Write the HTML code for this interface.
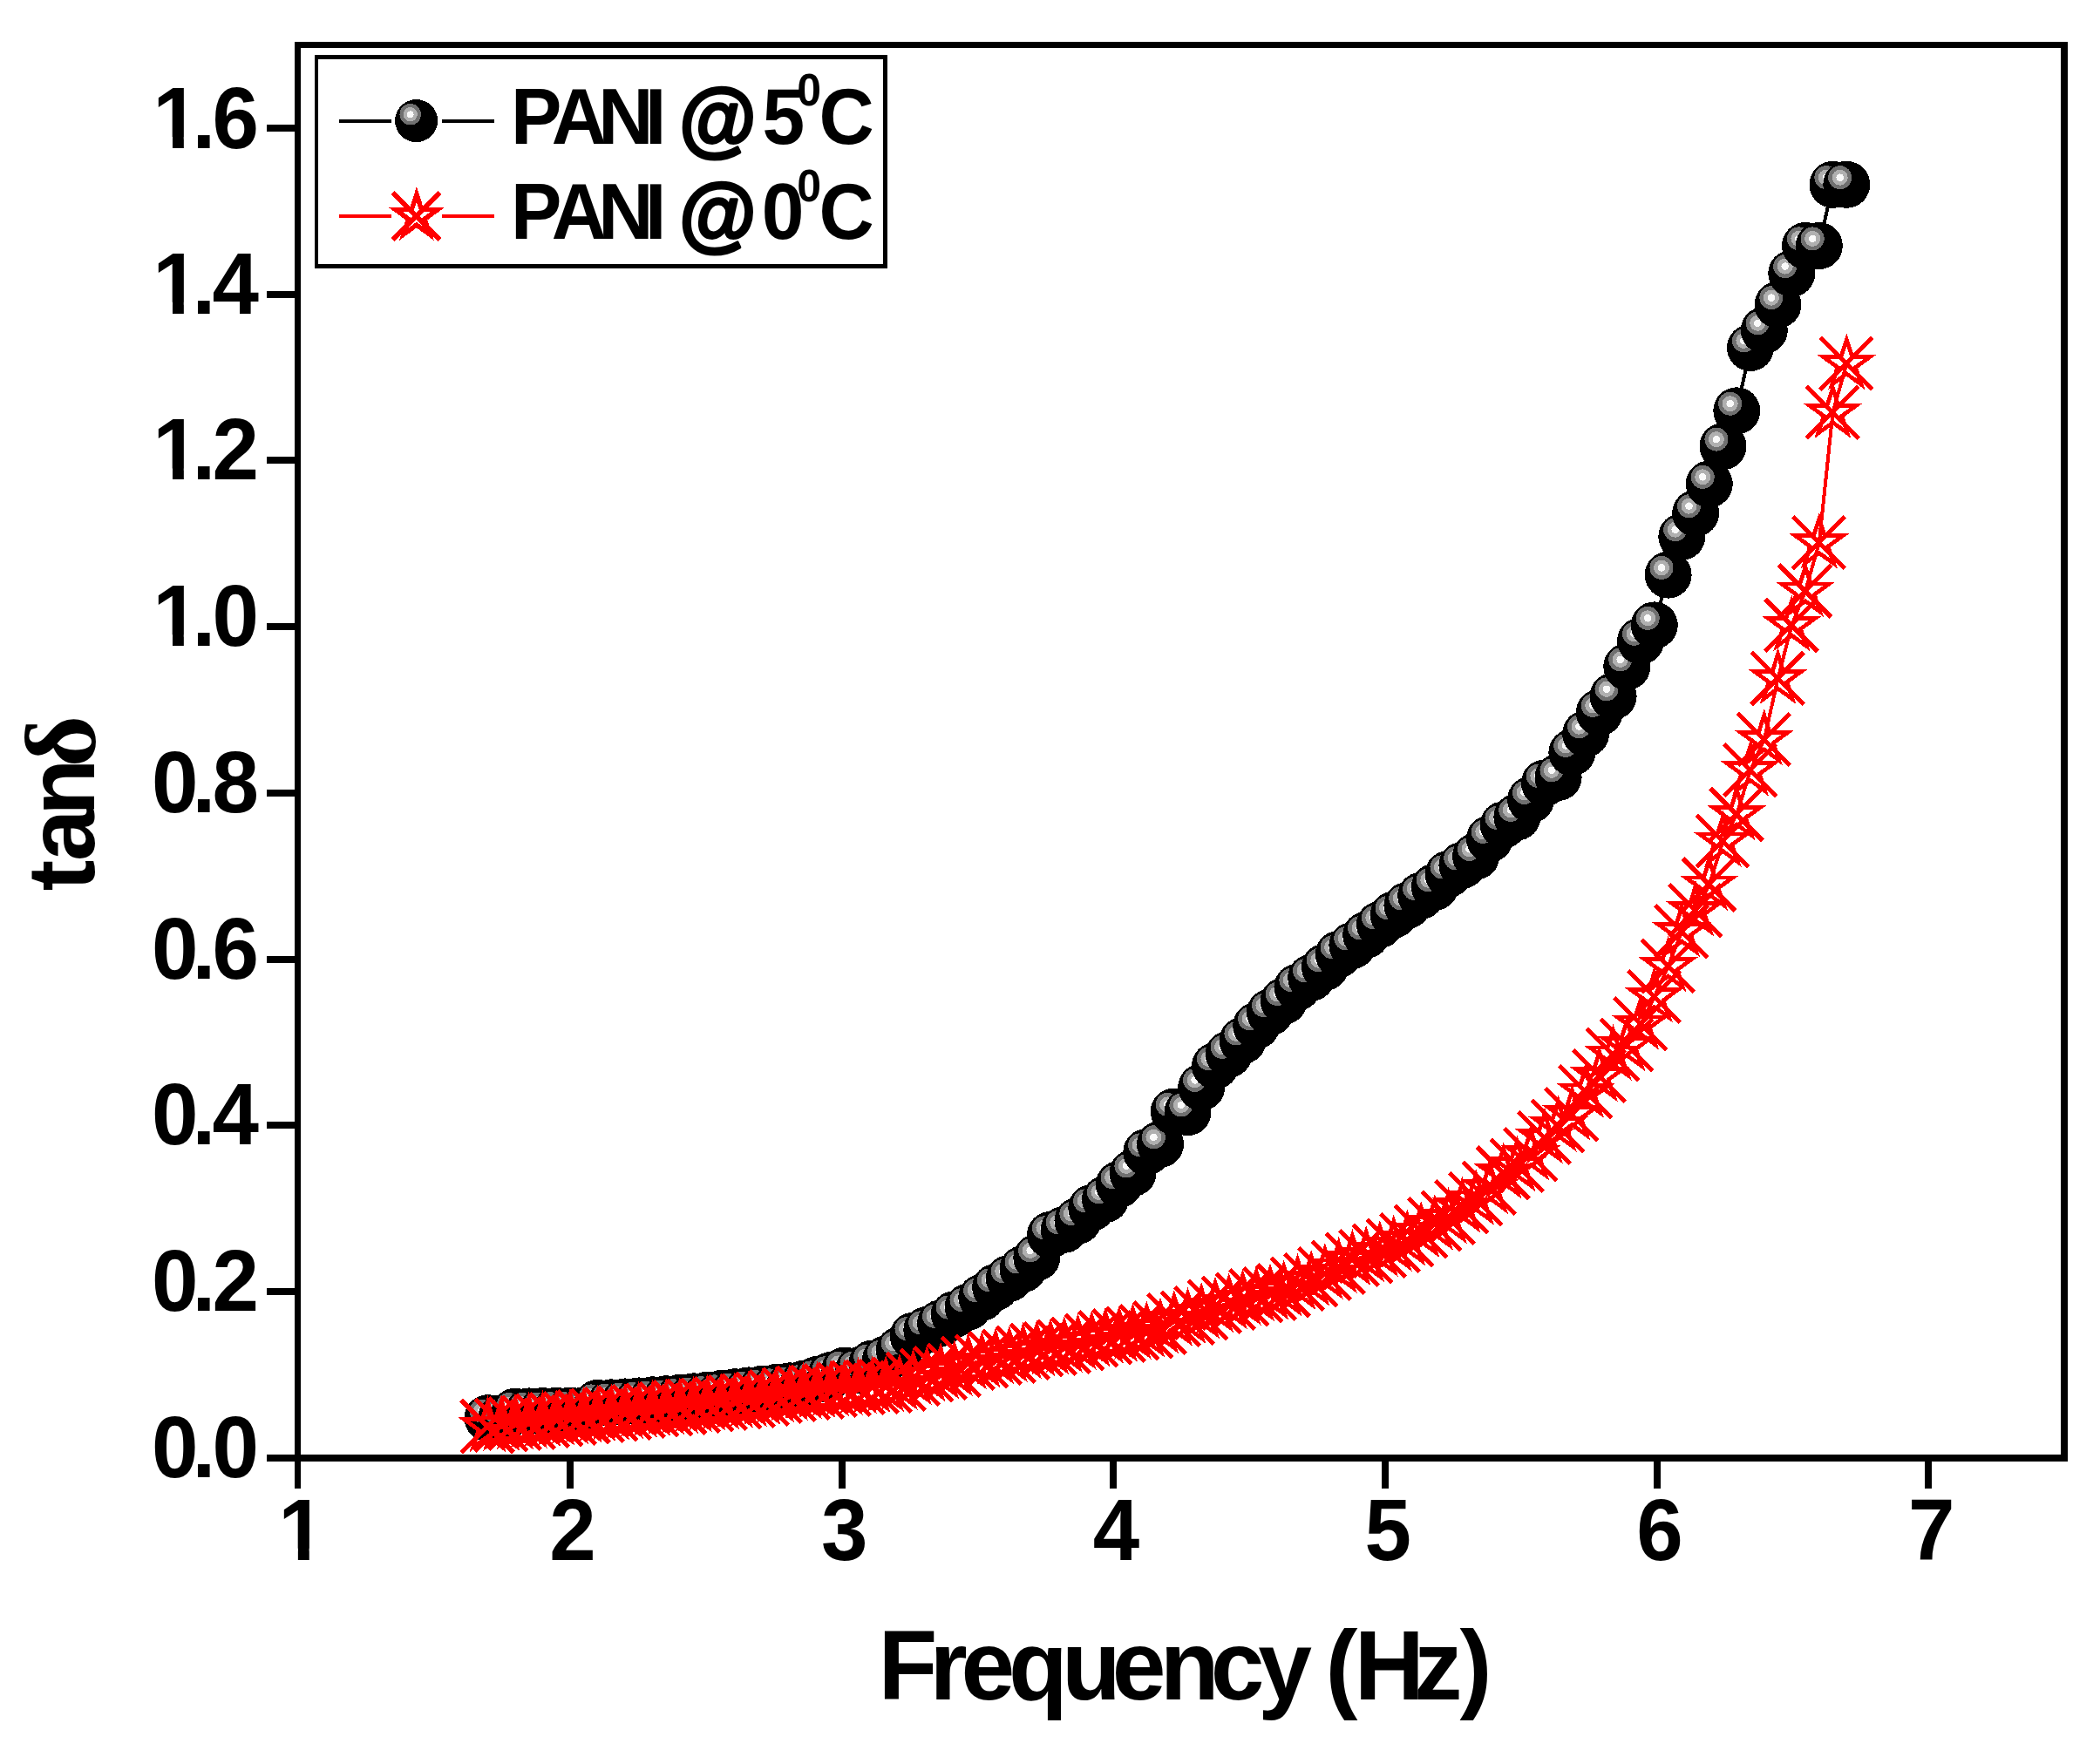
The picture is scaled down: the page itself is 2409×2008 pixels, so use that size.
<!DOCTYPE html>
<html><head><meta charset="utf-8"><title>tan delta vs Frequency</title>
<style>html,body{margin:0;padding:0;background:#fff}svg{display:block}text{font-family:"Liberation Sans",sans-serif;font-weight:bold;fill:#000}</style></head><body>
<svg width="2409" height="2008" viewBox="0 0 2409 2008" shape-rendering="crispEdges">
<defs>
<g id="sp"><circle r="27" fill="#000"/><circle cx="-7.6" cy="-8.1" r="13.5" fill="#707070"/><circle cx="-7.6" cy="-8.1" r="9" fill="#b0b0b0"/><circle cx="-7.6" cy="-8.1" r="4.3" fill="#fafafa"/></g>
<g id="st" fill="none" stroke="#f00"><polygon points="0.00,-28.40 6.38,-8.78 27.01,-8.78 10.32,3.35 16.69,22.98 0.00,10.85 -16.69,22.98 -10.32,3.35 -27.01,-8.78 -6.38,-8.78" stroke-width="4.7" stroke-miterlimit="10" transform="translate(0,0.6)"/><path d="M-29.9,-29.9L29.9,29.9M29.9,-29.9L-29.9,29.9" stroke-width="5" transform="translate(-0.4,-0.2)"/></g>
<g id="stl" fill="none" stroke="#f00"><polygon points="0.00,-25.30 5.68,-7.82 24.06,-7.82 9.19,2.99 14.87,20.47 0.00,9.66 -14.87,20.47 -9.19,2.99 -24.06,-7.82 -5.68,-7.82" stroke-width="5.5" stroke-miterlimit="10" transform="translate(0,0.4)"/><path d="M-27,-27L27,27M27,-27L-27,27" stroke-width="5.6"/></g>
<clipPath id="c1" clipPathUnits="userSpaceOnUse"><path d="M-20,-120H120V-13H-20ZM23.5,-30H36.9V5H23.5Z"/></clipPath>
</defs>
<rect width="2409" height="2008" fill="#fff"/>
<polyline points="559.5,1627.2 575.2,1627.2 591.0,1619.7 606.7,1619.4 622.5,1619.1 638.2,1618.8 654.0,1618.5 669.7,1618.2 685.5,1610.0 701.2,1609.3 717.0,1608.4 732.7,1607.4 748.4,1606.3 764.2,1605.2 779.9,1603.8 795.7,1602.3 811.4,1600.8 827.2,1599.0 842.9,1597.2 858.7,1595.4 874.4,1593.6 890.1,1592.0 905.9,1590.3 921.6,1588.0 937.4,1583.0 953.1,1578.0 968.9,1572.5 984.6,1572.5 1000.4,1564.6 1016.1,1559.6 1031.8,1549.3 1047.6,1532.8 1063.3,1526.0 1079.1,1518.3 1094.8,1508.2 1110.6,1499.7 1126.3,1488.7 1142.1,1477.0 1157.8,1466.8 1173.6,1456.0 1189.3,1443.0 1205.0,1417.0 1220.8,1410.8 1236.5,1400.6 1252.3,1386.0 1268.0,1376.0 1283.8,1359.0 1299.5,1346.0 1315.3,1322.0 1331.0,1312.9 1346.8,1275.5 1362.5,1276.1 1378.2,1247.5 1394.0,1223.0 1409.7,1209.5 1425.5,1194.0 1441.2,1177.0 1457.0,1161.6 1472.7,1148.6 1488.5,1132.6 1504.2,1121.8 1519.9,1109.8 1535.7,1094.9 1551.4,1084.9 1567.2,1072.8 1582.9,1060.9 1598.7,1049.8 1614.4,1038.9 1630.2,1027.7 1645.9,1017.8 1661.6,1002.9 1677.4,992.9 1693.1,982.5 1708.9,962.5 1724.6,946.5 1740.4,937.5 1756.1,917.5 1771.9,898.5 1787.6,891.9 1803.4,863.5 1819.1,841.8 1834.8,817.5 1850.6,798.9 1866.3,765.0 1882.1,735.4 1897.8,717.4 1913.6,659.6 1929.3,615.8 1945.1,588.8 1960.8,555.4 1976.5,512.2 1992.3,471.3 2008.0,399.0 2023.8,378.9 2039.5,349.7 2055.3,313.7 2071.0,282.0 2086.8,282.0 2102.5,211.8 2118.3,211.8" fill="none" stroke="#000" stroke-width="4"/>
<use href="#sp" x="559.5" y="1627.2"/>
<use href="#sp" x="575.2" y="1627.2"/>
<use href="#sp" x="591.0" y="1619.7"/>
<use href="#sp" x="606.7" y="1619.4"/>
<use href="#sp" x="622.5" y="1619.1"/>
<use href="#sp" x="638.2" y="1618.8"/>
<use href="#sp" x="654.0" y="1618.5"/>
<use href="#sp" x="669.7" y="1618.2"/>
<use href="#sp" x="685.5" y="1610.0"/>
<use href="#sp" x="701.2" y="1609.3"/>
<use href="#sp" x="717.0" y="1608.4"/>
<use href="#sp" x="732.7" y="1607.4"/>
<use href="#sp" x="748.4" y="1606.3"/>
<use href="#sp" x="764.2" y="1605.2"/>
<use href="#sp" x="779.9" y="1603.8"/>
<use href="#sp" x="795.7" y="1602.3"/>
<use href="#sp" x="811.4" y="1600.8"/>
<use href="#sp" x="827.2" y="1599.0"/>
<use href="#sp" x="842.9" y="1597.2"/>
<use href="#sp" x="858.7" y="1595.4"/>
<use href="#sp" x="874.4" y="1593.6"/>
<use href="#sp" x="890.1" y="1592.0"/>
<use href="#sp" x="905.9" y="1590.3"/>
<use href="#sp" x="921.6" y="1588.0"/>
<use href="#sp" x="937.4" y="1583.0"/>
<use href="#sp" x="953.1" y="1578.0"/>
<use href="#sp" x="968.9" y="1572.5"/>
<use href="#sp" x="984.6" y="1572.5"/>
<use href="#sp" x="1000.4" y="1564.6"/>
<use href="#sp" x="1016.1" y="1559.6"/>
<use href="#sp" x="1031.8" y="1549.3"/>
<use href="#sp" x="1047.6" y="1532.8"/>
<use href="#sp" x="1063.3" y="1526.0"/>
<use href="#sp" x="1079.1" y="1518.3"/>
<use href="#sp" x="1094.8" y="1508.2"/>
<use href="#sp" x="1110.6" y="1499.7"/>
<use href="#sp" x="1126.3" y="1488.7"/>
<use href="#sp" x="1142.1" y="1477.0"/>
<use href="#sp" x="1157.8" y="1466.8"/>
<use href="#sp" x="1173.6" y="1456.0"/>
<use href="#sp" x="1189.3" y="1443.0"/>
<use href="#sp" x="1205.0" y="1417.0"/>
<use href="#sp" x="1220.8" y="1410.8"/>
<use href="#sp" x="1236.5" y="1400.6"/>
<use href="#sp" x="1252.3" y="1386.0"/>
<use href="#sp" x="1268.0" y="1376.0"/>
<use href="#sp" x="1283.8" y="1359.0"/>
<use href="#sp" x="1299.5" y="1346.0"/>
<use href="#sp" x="1315.3" y="1322.0"/>
<use href="#sp" x="1331.0" y="1312.9"/>
<use href="#sp" x="1346.8" y="1275.5"/>
<use href="#sp" x="1362.5" y="1276.1"/>
<use href="#sp" x="1378.2" y="1247.5"/>
<use href="#sp" x="1394.0" y="1223.0"/>
<use href="#sp" x="1409.7" y="1209.5"/>
<use href="#sp" x="1425.5" y="1194.0"/>
<use href="#sp" x="1441.2" y="1177.0"/>
<use href="#sp" x="1457.0" y="1161.6"/>
<use href="#sp" x="1472.7" y="1148.6"/>
<use href="#sp" x="1488.5" y="1132.6"/>
<use href="#sp" x="1504.2" y="1121.8"/>
<use href="#sp" x="1519.9" y="1109.8"/>
<use href="#sp" x="1535.7" y="1094.9"/>
<use href="#sp" x="1551.4" y="1084.9"/>
<use href="#sp" x="1567.2" y="1072.8"/>
<use href="#sp" x="1582.9" y="1060.9"/>
<use href="#sp" x="1598.7" y="1049.8"/>
<use href="#sp" x="1614.4" y="1038.9"/>
<use href="#sp" x="1630.2" y="1027.7"/>
<use href="#sp" x="1645.9" y="1017.8"/>
<use href="#sp" x="1661.6" y="1002.9"/>
<use href="#sp" x="1677.4" y="992.9"/>
<use href="#sp" x="1693.1" y="982.5"/>
<use href="#sp" x="1708.9" y="962.5"/>
<use href="#sp" x="1724.6" y="946.5"/>
<use href="#sp" x="1740.4" y="937.5"/>
<use href="#sp" x="1756.1" y="917.5"/>
<use href="#sp" x="1771.9" y="898.5"/>
<use href="#sp" x="1787.6" y="891.9"/>
<use href="#sp" x="1803.4" y="863.5"/>
<use href="#sp" x="1819.1" y="841.8"/>
<use href="#sp" x="1834.8" y="817.5"/>
<use href="#sp" x="1850.6" y="798.9"/>
<use href="#sp" x="1866.3" y="765.0"/>
<use href="#sp" x="1882.1" y="735.4"/>
<use href="#sp" x="1897.8" y="717.4"/>
<use href="#sp" x="1913.6" y="659.6"/>
<use href="#sp" x="1929.3" y="615.8"/>
<use href="#sp" x="1945.1" y="588.8"/>
<use href="#sp" x="1960.8" y="555.4"/>
<use href="#sp" x="1976.5" y="512.2"/>
<use href="#sp" x="1992.3" y="471.3"/>
<use href="#sp" x="2008.0" y="399.0"/>
<use href="#sp" x="2023.8" y="378.9"/>
<use href="#sp" x="2039.5" y="349.7"/>
<use href="#sp" x="2055.3" y="313.7"/>
<use href="#sp" x="2071.0" y="282.0"/>
<use href="#sp" x="2086.8" y="282.0"/>
<use href="#sp" x="2102.5" y="211.8"/>
<use href="#sp" x="2118.3" y="211.8"/>
<polyline points="559.5,1636.8 575.2,1635.3 591.0,1633.7 606.7,1632.2 622.5,1630.6 638.2,1629.1 654.0,1627.5 669.7,1626.0 685.5,1624.5 701.2,1622.9 717.0,1621.4 732.7,1619.8 748.4,1618.3 764.2,1616.8 779.9,1615.2 795.7,1613.7 811.4,1612.1 827.2,1610.6 842.9,1609.0 858.7,1607.5 874.4,1605.5 890.1,1602.5 905.9,1600.5 921.6,1598.5 937.4,1597.5 953.1,1595.5 968.9,1594.5 984.6,1592.5 1000.4,1591.5 1016.1,1590.5 1031.8,1588.5 1047.6,1582.5 1063.3,1578.5 1079.1,1575.5 1094.8,1572.5 1110.6,1564.5 1126.3,1562.5 1142.1,1558.5 1157.8,1556.5 1173.6,1552.5 1189.3,1549.5 1205.0,1547.5 1220.8,1545.5 1236.5,1542.0 1252.3,1538.5 1268.0,1535.0 1283.8,1533.0 1299.5,1530.0 1315.3,1528.0 1331.0,1523.5 1346.8,1515.0 1362.5,1512.5 1378.2,1506.7 1394.0,1499.4 1409.7,1495.6 1425.5,1491.0 1441.2,1486.8 1457.0,1484.7 1472.7,1481.0 1488.5,1473.6 1504.2,1469.0 1519.9,1461.6 1535.7,1454.3 1551.4,1445.5 1567.2,1441.7 1582.9,1435.5 1598.7,1429.2 1614.4,1423.0 1630.2,1413.3 1645.9,1405.0 1661.6,1397.5 1677.4,1385.0 1693.1,1376.3 1708.9,1363.4 1724.6,1345.9 1740.4,1337.6 1756.1,1324.9 1771.9,1305.8 1787.6,1292.0 1803.4,1279.0 1819.1,1253.3 1834.8,1234.8 1850.6,1210.1 1866.3,1199.5 1882.1,1175.1 1897.8,1143.8 1913.6,1108.8 1929.3,1068.8 1945.1,1044.8 1960.8,1015.1 1976.5,965.2 1992.3,934.6 2008.0,884.0 2023.8,848.6 2039.5,778.6 2055.3,717.6 2071.0,678.3 2086.8,623.0 2102.5,473.4 2118.3,417.5" fill="none" stroke="#f00" stroke-width="4"/>
<use href="#st" x="559.5" y="1636.8"/>
<use href="#st" x="575.2" y="1635.3"/>
<use href="#st" x="591.0" y="1633.7"/>
<use href="#st" x="606.7" y="1632.2"/>
<use href="#st" x="622.5" y="1630.6"/>
<use href="#st" x="638.2" y="1629.1"/>
<use href="#st" x="654.0" y="1627.5"/>
<use href="#st" x="669.7" y="1626.0"/>
<use href="#st" x="685.5" y="1624.5"/>
<use href="#st" x="701.2" y="1622.9"/>
<use href="#st" x="717.0" y="1621.4"/>
<use href="#st" x="732.7" y="1619.8"/>
<use href="#st" x="748.4" y="1618.3"/>
<use href="#st" x="764.2" y="1616.8"/>
<use href="#st" x="779.9" y="1615.2"/>
<use href="#st" x="795.7" y="1613.7"/>
<use href="#st" x="811.4" y="1612.1"/>
<use href="#st" x="827.2" y="1610.6"/>
<use href="#st" x="842.9" y="1609.0"/>
<use href="#st" x="858.7" y="1607.5"/>
<use href="#st" x="874.4" y="1605.5"/>
<use href="#st" x="890.1" y="1602.5"/>
<use href="#st" x="905.9" y="1600.5"/>
<use href="#st" x="921.6" y="1598.5"/>
<use href="#st" x="937.4" y="1597.5"/>
<use href="#st" x="953.1" y="1595.5"/>
<use href="#st" x="968.9" y="1594.5"/>
<use href="#st" x="984.6" y="1592.5"/>
<use href="#st" x="1000.4" y="1591.5"/>
<use href="#st" x="1016.1" y="1590.5"/>
<use href="#st" x="1031.8" y="1588.5"/>
<use href="#st" x="1047.6" y="1582.5"/>
<use href="#st" x="1063.3" y="1578.5"/>
<use href="#st" x="1079.1" y="1575.5"/>
<use href="#st" x="1094.8" y="1572.5"/>
<use href="#st" x="1110.6" y="1564.5"/>
<use href="#st" x="1126.3" y="1562.5"/>
<use href="#st" x="1142.1" y="1558.5"/>
<use href="#st" x="1157.8" y="1556.5"/>
<use href="#st" x="1173.6" y="1552.5"/>
<use href="#st" x="1189.3" y="1549.5"/>
<use href="#st" x="1205.0" y="1547.5"/>
<use href="#st" x="1220.8" y="1545.5"/>
<use href="#st" x="1236.5" y="1542.0"/>
<use href="#st" x="1252.3" y="1538.5"/>
<use href="#st" x="1268.0" y="1535.0"/>
<use href="#st" x="1283.8" y="1533.0"/>
<use href="#st" x="1299.5" y="1530.0"/>
<use href="#st" x="1315.3" y="1528.0"/>
<use href="#st" x="1331.0" y="1523.5"/>
<use href="#st" x="1346.8" y="1515.0"/>
<use href="#st" x="1362.5" y="1512.5"/>
<use href="#st" x="1378.2" y="1506.7"/>
<use href="#st" x="1394.0" y="1499.4"/>
<use href="#st" x="1409.7" y="1495.6"/>
<use href="#st" x="1425.5" y="1491.0"/>
<use href="#st" x="1441.2" y="1486.8"/>
<use href="#st" x="1457.0" y="1484.7"/>
<use href="#st" x="1472.7" y="1481.0"/>
<use href="#st" x="1488.5" y="1473.6"/>
<use href="#st" x="1504.2" y="1469.0"/>
<use href="#st" x="1519.9" y="1461.6"/>
<use href="#st" x="1535.7" y="1454.3"/>
<use href="#st" x="1551.4" y="1445.5"/>
<use href="#st" x="1567.2" y="1441.7"/>
<use href="#st" x="1582.9" y="1435.5"/>
<use href="#st" x="1598.7" y="1429.2"/>
<use href="#st" x="1614.4" y="1423.0"/>
<use href="#st" x="1630.2" y="1413.3"/>
<use href="#st" x="1645.9" y="1405.0"/>
<use href="#st" x="1661.6" y="1397.5"/>
<use href="#st" x="1677.4" y="1385.0"/>
<use href="#st" x="1693.1" y="1376.3"/>
<use href="#st" x="1708.9" y="1363.4"/>
<use href="#st" x="1724.6" y="1345.9"/>
<use href="#st" x="1740.4" y="1337.6"/>
<use href="#st" x="1756.1" y="1324.9"/>
<use href="#st" x="1771.9" y="1305.8"/>
<use href="#st" x="1787.6" y="1292.0"/>
<use href="#st" x="1803.4" y="1279.0"/>
<use href="#st" x="1819.1" y="1253.3"/>
<use href="#st" x="1834.8" y="1234.8"/>
<use href="#st" x="1850.6" y="1210.1"/>
<use href="#st" x="1866.3" y="1199.5"/>
<use href="#st" x="1882.1" y="1175.1"/>
<use href="#st" x="1897.8" y="1143.8"/>
<use href="#st" x="1913.6" y="1108.8"/>
<use href="#st" x="1929.3" y="1068.8"/>
<use href="#st" x="1945.1" y="1044.8"/>
<use href="#st" x="1960.8" y="1015.1"/>
<use href="#st" x="1976.5" y="965.2"/>
<use href="#st" x="1992.3" y="934.6"/>
<use href="#st" x="2008.0" y="884.0"/>
<use href="#st" x="2023.8" y="848.6"/>
<use href="#st" x="2039.5" y="778.6"/>
<use href="#st" x="2055.3" y="717.6"/>
<use href="#st" x="2071.0" y="678.3"/>
<use href="#st" x="2086.8" y="623.0"/>
<use href="#st" x="2102.5" y="473.4"/>
<use href="#st" x="2118.3" y="417.5"/>
<g fill="#000">
<rect x="338" y="48" width="2034" height="7"/>
<rect x="338" y="1669" width="2034" height="8"/>
<rect x="338" y="48" width="7" height="1629"/>
<rect x="2364" y="48" width="8" height="1629"/>
<rect x="306" y="1669" width="33" height="8"/>
<rect x="306" y="1478" width="33" height="8"/>
<rect x="306" y="1287" width="33" height="8"/>
<rect x="306" y="1097" width="33" height="8"/>
<rect x="306" y="906" width="33" height="8"/>
<rect x="306" y="715" width="33" height="8"/>
<rect x="306" y="524" width="33" height="8"/>
<rect x="306" y="334" width="33" height="8"/>
<rect x="306" y="143" width="33" height="8"/>
<rect x="338" y="1676" width="7" height="32"/>
<rect x="650" y="1676" width="8" height="32"/>
<rect x="962" y="1676" width="8" height="32"/>
<rect x="1273" y="1676" width="8" height="32"/>
<rect x="1585" y="1676" width="8" height="32"/>
<rect x="1897" y="1676" width="8" height="32"/>
<rect x="2208" y="1676" width="8" height="32"/>
</g>
<text transform="translate(177.70,1694.90) scale(0.9610,1)" font-size="100.10" x="-3.96 44.50 68.36" y="0" >0.0</text>
<text transform="translate(177.70,1504.24) scale(0.9610,1)" font-size="100.10" x="-3.96 44.50 68.36" y="0" >0.2</text>
<text transform="translate(177.70,1313.48) scale(0.9610,1)" font-size="100.10" x="-3.96 44.50 68.36" y="0" >0.4</text>
<text transform="translate(177.70,1122.72) scale(0.9610,1)" font-size="100.10" x="-3.96 44.50 68.36" y="0" >0.6</text>
<text transform="translate(177.70,931.60) scale(0.9610,1)" font-size="100.10" x="-3.96 44.50 68.36" y="0" >0.8</text>
<g transform="translate(175.35,741.20) scale(0.9620,1.0010)"><text font-size="100" x="0" y="0" clip-path="url(#c1)">1</text></g>
<text transform="translate(227.00,741.20) scale(0.9610,1)" font-size="100.10" x="-6.79 17.06" y="0" >.0</text>
<g transform="translate(175.35,550.44) scale(0.9620,1.0010)"><text font-size="100" x="0" y="0" clip-path="url(#c1)">1</text></g>
<text transform="translate(227.00,550.44) scale(0.9610,1)" font-size="100.10" x="-6.79 17.06" y="0" >.2</text>
<g transform="translate(175.35,359.80) scale(0.9620,1.0010)"><text font-size="100" x="0" y="0" clip-path="url(#c1)">1</text></g>
<text transform="translate(227.00,359.80) scale(0.9610,1)" font-size="100.10" x="-6.79 17.06" y="0" >.4</text>
<g transform="translate(175.35,169.90) scale(0.9620,1.0010)"><text font-size="100" x="0" y="0" clip-path="url(#c1)">1</text></g>
<text transform="translate(227.00,169.90) scale(0.9610,1)" font-size="100.10" x="-6.79 17.06" y="0" >.6</text>
<g transform="translate(319.25,1789.80) scale(0.9620,1.0010)"><text font-size="100" x="0" y="0" clip-path="url(#c1)">1</text></g>
<text transform="translate(633.59,1789.80) scale(0.9610,1)" font-size="100.10" x="-3.47" y="0" >2</text>
<text transform="translate(944.21,1789.80) scale(0.9610,1)" font-size="100.10" x="-2.30" y="0" >3</text>
<text transform="translate(1255.21,1789.80) scale(0.9610,1)" font-size="100.10" x="-1.52" y="0" >4</text>
<text transform="translate(1568.46,1789.80) scale(0.9610,1)" font-size="100.10" x="-3.08" y="0" >5</text>
<text transform="translate(1880.77,1789.80) scale(0.9610,1)" font-size="100.10" x="-3.67" y="0" >6</text>
<text transform="translate(2193.13,1789.80) scale(0.9610,1)" font-size="100.10" x="-4.30" y="0" >7</text>
<text transform="translate(1014.80,1949.70) scale(0.9823,1)" font-size="113.00" x="-7.56 52.61 89.24 144.81 206.88 265.67 321.68 380.60 436.05 446.05 514.78 548.58 618.10 671.48" y="0" >Frequency (Hz)</text>
<text transform="translate(108,1020.9) rotate(-90) scale(0.9700,1)" font-size="110.00" x="-1.34 33.89 87.70" y="0">tan</text>
<text transform="translate(108,1020.9) rotate(-90)" font-size="113.8" x="140.7" y="0" style="font-family:'Liberation Serif',serif">δ</text>
<g fill="#000"><rect x="361" y="63" width="657" height="5"/><rect x="361" y="303" width="657" height="5"/><rect x="361" y="63" width="4" height="245"/><rect x="1013" y="63" width="5" height="245"/></g>
<g fill="#000"><rect x="389" y="137" width="60" height="4"/><rect x="507" y="137" width="60" height="4"/></g>
<g fill="#f00"><rect x="389" y="246" width="60" height="4"/><rect x="507" y="246" width="60" height="4"/></g>
<g transform="translate(477.6,138.6) scale(0.907)"><use href="#sp"/></g>
<use href="#stl" x="477.9" y="248"/>
<text transform="translate(591.90,164.70) scale(0.9615,1)" font-size="91.00" x="-6.09 42.45 98.12 154.07" y="0" >PANI</text>
<text transform="translate(784.30,167.70) scale(0.9615,1)" font-size="94.64" x="-5.41" y="0" stroke="#000" stroke-width="3.2" stroke-linejoin="round">@</text>
<text transform="translate(877.10,164.70) scale(0.9615,1)" font-size="91.00" x="-2.80" y="0" >5</text>
<text transform="translate(916.30,121.40) scale(0.9615,1)" font-size="52.00" x="-2.06" y="0" >0</text>
<text transform="translate(943.10,164.70) scale(0.9615,1)" font-size="91.00" x="-3.73" y="0" >C</text>
<text transform="translate(591.90,273.80) scale(0.9615,1)" font-size="91.00" x="-6.09 42.45 98.12 154.07" y="0" >PANI</text>
<text transform="translate(784.30,276.80) scale(0.9615,1)" font-size="94.64" x="-5.41" y="0" stroke="#000" stroke-width="3.2" stroke-linejoin="round">@</text>
<text transform="translate(877.10,273.80) scale(0.9615,1)" font-size="91.00" x="-3.60" y="0" >0</text>
<text transform="translate(916.30,230.50) scale(0.9615,1)" font-size="52.00" x="-2.06" y="0" >0</text>
<text transform="translate(943.10,273.80) scale(0.9615,1)" font-size="91.00" x="-3.73" y="0" >C</text>
</svg></body></html>
